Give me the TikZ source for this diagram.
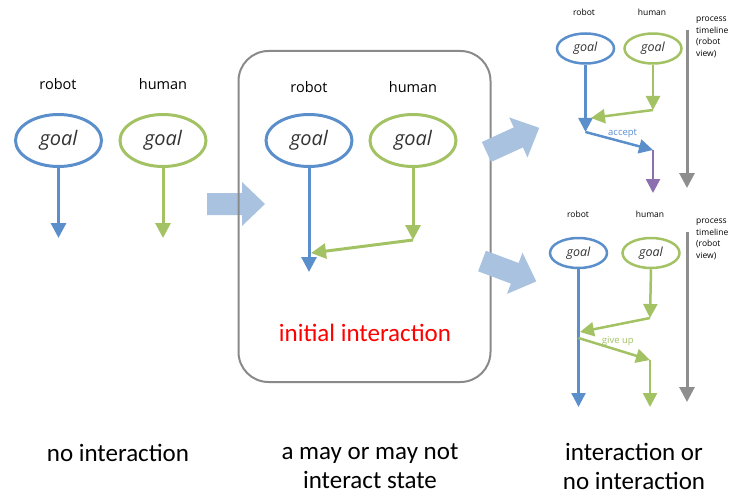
\documentclass[tikz,border=0pt]{standalone}
\usepackage{fontspec}
\setmainfont{Carlito}
\newfontfamily\labelfont{Open Sans}
\usetikzlibrary{arrows.meta,shapes.geometric}

\definecolor{robotblue}{HTML}{5B8FCB}
\definecolor{humangreen}{HTML}{A3C264}
\definecolor{mergepurple}{HTML}{8B6FAE}
\definecolor{timegray}{HTML}{8E8E8E}
\definecolor{stepfill}{HTML}{A8C2E0}
\definecolor{framegray}{HTML}{8A8A8A}

\tikzset{
  goalbig/.style={ellipse, draw=#1, line width=3pt, minimum width=86pt, minimum height=52pt,
    inner sep=0pt, font=\labelfont\itshape\fontsize{20}{20}\selectfont, text=black!80},
  goalsmall/.style={ellipse, draw=#1, line width=2.5pt, minimum width=57pt, minimum height=30pt,
    inner sep=0pt, font=\labelfont\itshape\fontsize{12.5}{12.5}\selectfont, text=black!80},
  rolebig/.style={font=\labelfont\fontsize{14.5}{14.5}\selectfont, inner sep=0pt},
  rolesmall/.style={font=\labelfont\fontsize{8.5}{8.5}\selectfont, inner sep=0pt},
  flowlabel/.style={font=\labelfont\fontsize{9.5}{9.5}\selectfont, inner sep=0pt},
  flow/.style={line width=3pt, -{Triangle[width=15pt,length=15pt]}},
  flowsmall/.style={line width=2.5pt, -{Triangle[width=14pt,length=14pt]}},
  caption/.style={font=\fontsize{25}{29}\selectfont, align=center, inner sep=0pt},
  timenote/.style={font=\labelfont\fontsize{8.5}{11.5}\selectfont, align=left, anchor=north west, inner sep=0pt},
  stepshape/.style={fill=stepfill},
}

\begin{document}
\begin{tikzpicture}[x=1pt,y=-1pt]
\useasboundingbox (0,0) rectangle (729,495);

% ---------- no interaction ----------
\node[rolebig] (robA) at (58,84) {robot};
\node[rolebig] (humA) at (163,84) {human};
\node[goalbig=robotblue] (gR1) at (58.5,140.5) {goal};
\node[goalbig=humangreen] (gH1) at (163,140.5) {goal};
\coordinate (eR1) at (58.5,238);
\coordinate (eH1) at (163,238);
\draw[flow, robotblue] (gR1.south) -- (eR1);
\draw[flow, humangreen] (gH1.south) -- (eH1);

% step arrow 1
\fill[stepshape, shift={(207,204)}]
  (0,-11) -- (35,-11) -- (35,-22) -- (58,0) -- (35,22) -- (35,11) -- (0,11) -- cycle;

% ---------- initial interaction ----------
\draw[framegray, line width=2pt, rounded corners=30pt] (238.5,51) rectangle (490.5,382);
\node[rolebig] (robB) at (309,87) {robot};
\node[rolebig] (humB) at (413,87) {human};
\node[goalbig=robotblue] (gR2) at (309,140.5) {goal};
\node[goalbig=humangreen] (gH2) at (413,140.5) {goal};
\coordinate (eR2) at (309,272);
\coordinate (bH2) at (413,240);
\coordinate (mR2) at (311,253);
\draw[flow, robotblue] (gR2.south) -- (eR2);
\draw[flow, humangreen] (gH2.south) -- (bH2);
\draw[flow, humangreen] (bH2) -- (mR2);
\node[font=\fontsize{25}{25}\selectfont, text=red, inner sep=0pt] (initial) at (365,333) {initial interaction};

% step arrows 2 and 3
\fill[stepshape, shift={(486.5,152)}, rotate=24.6]
  (0,-11) -- (35,-11) -- (35,-22) -- (58,0) -- (35,22) -- (35,11) -- (0,11) -- cycle;
\fill[stepshape, shift={(482,261)}, rotate=-20.6]
  (0,-11) -- (35,-11) -- (35,-22) -- (58,0) -- (35,22) -- (35,11) -- (0,11) -- cycle;

% ---------- outcome: accept ----------
\node[rolesmall] (robC) at (584,12) {robot};
\node[rolesmall] (humC) at (652,12) {human};
\node[goalsmall=robotblue] (gR3) at (585.5,48.5) {goal};
\node[goalsmall=humangreen] (gH3) at (653,48.5) {goal};
\coordinate (eR3) at (585.5,132);
\coordinate (bH3) at (653,110);
\coordinate (mR3) at (591,118);
\coordinate (aC3) at (653,150);
\coordinate (eC3) at (653,193);
\draw[flowsmall, robotblue] (gR3.south) -- (eR3);
\draw[flowsmall, humangreen] (gH3.south) -- (bH3);
\draw[flowsmall, humangreen] (bH3) -- (mR3);
\draw[flowsmall, robotblue] (eR3) -- node[pos=0.55, above=3pt, flowlabel, text=robotblue] {accept} (aC3);
\draw[flowsmall, mergepurple] (aC3) -- (eC3);
\coordinate (tT3) at (687,30);
\coordinate (tB3) at (687,188);
\draw[flow, timegray] (tT3) -- (tB3);
\node[timenote] (note3) at (696,17) {process\\timeline\\(robot\\view)};

% ---------- outcome: give up ----------
\node[rolesmall] (robD) at (578,214) {robot};
\node[rolesmall] (humD) at (650,214) {human};
\node[goalsmall=robotblue] (gR4) at (578.5,253) {goal};
\node[goalsmall=humangreen] (gH4) at (651,253) {goal};
\coordinate (eR4) at (578.5,407);
\coordinate (bH4) at (650,318);
\coordinate (mR4) at (580,332);
\coordinate (sG4) at (578.5,338);
\coordinate (aG4) at (650,360);
\coordinate (eG4) at (650,407);
\draw[flowsmall, robotblue] (gR4.south) -- (eR4);
\draw[flowsmall, humangreen] (gH4.south) -- (bH4);
\draw[flowsmall, humangreen] (bH4) -- (mR4);
\draw[flowsmall, humangreen] (sG4) -- node[pos=0.55, above=3pt, flowlabel, text=humangreen] {give up} (aG4);
\draw[flowsmall, humangreen] (aG4) -- (eG4);
\coordinate (tT4) at (687,232);
\coordinate (tB4) at (687,402);
\draw[flow, timegray] (tT4) -- (tB4);
\node[timenote] (note4) at (696,219) {process\\timeline\\(robot\\view)};

% ---------- captions ----------
\node[caption] (capA) at (118,453) {no interaction};
\node[caption, anchor=north] (capB) at (370,443) {a may or may not\\interact state};
\node[caption, anchor=north] (capC) at (634,443) {interaction or\\no interaction};
\end{tikzpicture}
\end{document}
